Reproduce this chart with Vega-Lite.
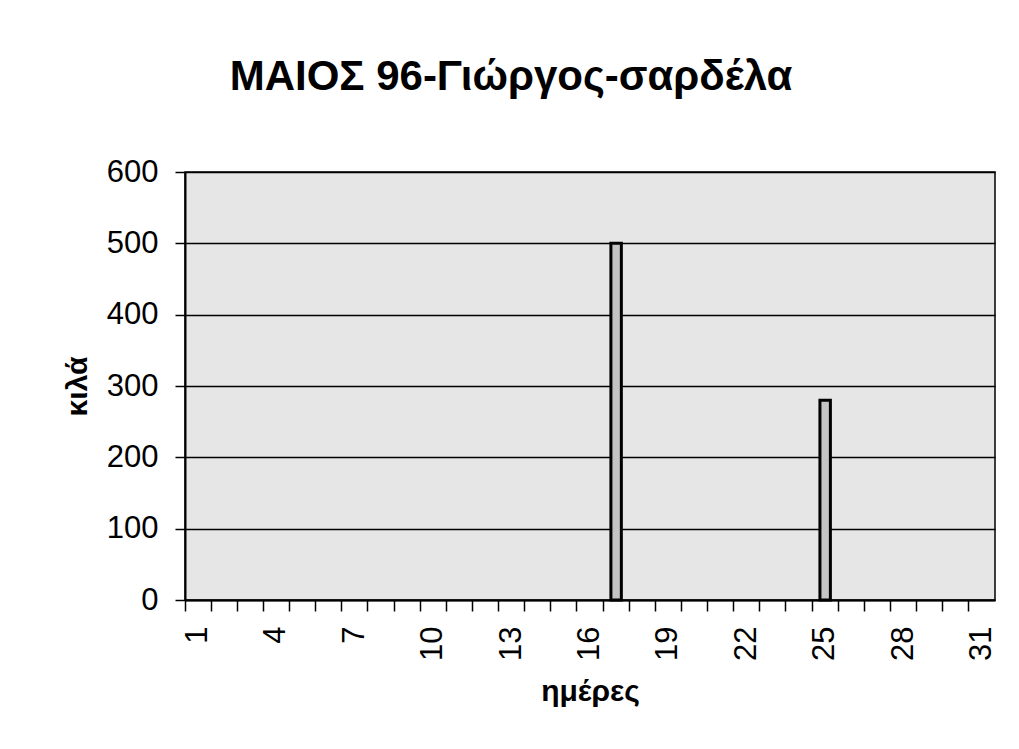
{
  "$schema": "https://vega.github.io/schema/vega-lite/v6.json",
  "width": 810,
  "height": 428,
  "autosize": {"type": "none"},
  "padding": {"left": 185, "top": 172, "right": 24, "bottom": 149},
  "background": "white",
  "title": {
    "text": "ΜΑΙΟΣ 96-Γιώργος-σαρδέλα",
    "font": "Liberation Sans",
    "fontSize": 42,
    "fontWeight": "bold",
    "color": "black",
    "anchor": "middle",
    "baseline": "alphabetic",
    "dx": -79,
    "offset": 24
  },
  "data": {
    "values": [
      {"day": 17, "kg": 500},
      {"day": 25, "kg": 280}
    ]
  },
  "mark": {
    "type": "bar",
    "width": {"band": 0.4},
    "fill": "#c4c4c4",
    "stroke": "black",
    "strokeWidth": 3
  },
  "encoding": {
    "x": {
      "field": "day",
      "type": "ordinal",
      "scale": {
        "domain": [1,2,3,4,5,6,7,8,9,10,11,12,13,14,15,16,17,18,19,20,21,22,23,24,25,26,27,28,29,30,31],
        "paddingInner": 0,
        "paddingOuter": 0
      },
      "axis": {
        "title": "ημέρες",
        "titleFont": "Liberation Sans",
        "titleFontSize": 30,
        "titleFontWeight": "bold",
        "titleColor": "black",
        "titlePadding": 16,
        "labelFont": "Liberation Sans",
        "labelFontSize": 31,
        "labelColor": "black",
        "labelAngle": 270,
        "labelPadding": 15,
        "labelOffset": 0,
        "labelExpr": "(datum.value - 1) % 3 == 0 ? datum.label : ''",
        "bandPosition": 0,
        "tickColor": "black",
        "tickSize": 11,
        "tickWidth": 1.5,
        "domainColor": "black",
        "domainWidth": 2,
        "grid": false
      }
    },
    "y": {
      "field": "kg",
      "type": "quantitative",
      "scale": {"domain": [0, 600], "nice": false},
      "axis": {
        "title": "κιλά",
        "titleFont": "Liberation Sans",
        "titleFontSize": 30,
        "titleFontWeight": "bold",
        "titleColor": "black",
        "titlePadding": 14,
        "values": [0, 100, 200, 300, 400, 500, 600],
        "labelFont": "Liberation Sans",
        "labelFontSize": 31,
        "labelColor": "black",
        "labelPadding": 17,
        "tickColor": "black",
        "tickSize": 10,
        "tickWidth": 1.5,
        "domainColor": "black",
        "domainWidth": 2,
        "grid": true,
        "gridColor": "black",
        "gridWidth": 1.5,
        "gridOpacity": 1
      }
    }
  },
  "config": {
    "view": {"fill": "#e6e6e6", "stroke": "black", "strokeWidth": 1.5}
  }
}
